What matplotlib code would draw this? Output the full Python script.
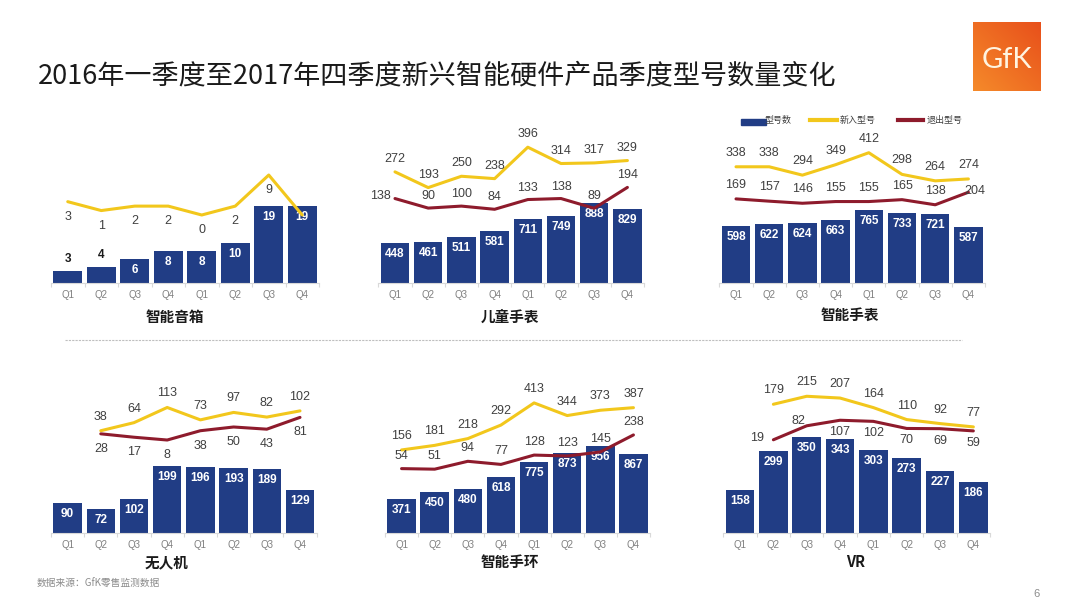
import numpy as np
import matplotlib
matplotlib.use("Agg")
import matplotlib.pyplot as plt
from matplotlib.patches import Rectangle
from matplotlib.lines import Line2D
from matplotlib.colors import LinearSegmentedColormap

plt.rcParams['font.family'] = ['Noto Sans CJK SC', 'DejaVu Sans']

# ---------------- data ----------------
quarters = ["Q1", "Q2", "Q3", "Q4", "Q1", "Q2", "Q3", "Q4"]
titles = ["智能音箱", "儿童手表", "智能手表", "无人机", "智能手环", "VR"]

models_speaker = [3, 4, 6, 8, 8, 10, 19, 19]
new_speaker = [3, 1, 2, 2, 0, 2, 9, 0]
exit_speaker = [np.nan] * 8

models_kidwatch = [448, 461, 511, 581, 711, 749, 888, 829]
new_kidwatch = [272, 193, 250, 238, 396, 314, 317, 329]
exit_kidwatch = [138, 90, 100, 84, 133, 138, 89, 194]

models_watch = [598, 622, 624, 663, 765, 733, 721, 587]
new_watch = [338, 338, 294, 349, 412, 298, 264, 274]
exit_watch = [169, 157, 146, 155, 155, 165, 138, 204]

models_drone = [90, 72, 102, 199, 196, 193, 189, 129]
new_drone = [np.nan, 38, 64, 113, 73, 97, 82, 102]
exit_drone = [np.nan, 28, 17, 8, 38, 50, 43, 81]

models_band = [371, 450, 480, 618, 775, 873, 956, 867]
new_band = [156, 181, 218, 292, 413, 344, 373, 387]
exit_band = [54, 51, 94, 77, 128, 123, 145, 238]

models_vr = [158, 299, 350, 343, 303, 273, 227, 186]
new_vr = [np.nan, 179, 215, 207, 164, 110, 92, 77]
exit_vr = [np.nan, 19, 82, 107, 102, 70, 69, 59]

models = [models_speaker, models_kidwatch, models_watch, models_drone, models_band, models_vr]
news = [new_speaker, new_kidwatch, new_watch, new_drone, new_band, new_vr]
exits = [exit_speaker, exit_kidwatch, exit_watch, exit_drone, exit_band, exit_vr]

legend_labels = ["型号数", "新入型号", "退出型号"]
main_title = "2016年一季度至2017年四季度新兴智能硬件产品季度型号数量变化"
source_text = "数据来源：GfK零售监测数据"
page_no = "6"

# ---------------- style / layout ----------------
NAVY = "#213D85"
YELLOW = "#F2C71C"
RED = "#8E1B2C"
GRAY_TXT = "#404040"
AX_GRAY = "#7F7F7F"
NUMFONT = ["Liberation Sans", "DejaVu Sans"]

W, H = 1080, 608
fig = plt.figure(figsize=(W / 100, H / 100), dpi=100)
fig.patch.set_facecolor("white")

def fx(px):
    return px / W

def fy(py):
    return 1 - py / H

# per panel: x-left, x-right, baseline, axes top, bar px/unit, line zero px, line px/unit
geo = [
    (51, 319, 283.3, 130, 4.07, 215, 4.44),
    (378.4, 644, 283.3, 130, 0.090, 226, 0.199),
    (719.4, 985, 283.3, 130, 0.096, 231, 0.19),
    (51, 316.6, 533, 385, 0.337, 442.5, 0.31),
    (385, 650, 533.3, 385, 0.0915, 478.5, 0.183),
    (723.4, 990, 532.7, 385, 0.273, 444, 0.222),
]
title_pos = [(175, 317), (510, 317), (850, 315), (167, 562), (510, 562), (856, 562)]

# label offsets in px (dx, dy; dy positive = up)
new_off = [(0, -15), (0, 13), (0, 14), (0, 14), (0, 14), (0, 14)]
exit_off = [(0, 13), (0, 12), (0, 14), (0, -15), (0, 13), (0, -12)]
special_exit_off = {(1, 0): (-15, 3), (5, 1): (-16, 2), (5, 2): (-8, 5), (2, 7): (6, 1)}
hidden_new = {(0, 7)}

x = np.arange(8)
PT = 72 / 100  # px -> points

for i in range(6):
    xl, xr, base, top, bscale, lzero, lscale = geo[i]
    ax = fig.add_axes([fx(xl), fy(base), fx(xr) - fx(xl), (base - top) / H])
    hpx = base - top
    ax.set_xlim(-0.5, 7.5)
    ax.set_ylim(0, hpx / bscale)
    vals = models[i]
    ax.bar(x, vals, width=0.86, color=NAVY, zorder=2)
    for j, v in enumerate(vals):
        if v * bscale < 18:
            ax.annotate(str(v), (j, v), xytext=(0, 6 * PT), textcoords="offset points",
                        ha="center", va="bottom", fontsize=8.5, fontweight="bold",
                        color="#1a1a1a", family=NUMFONT)
        else:
            ax.annotate(str(v), (j, v), xytext=(0, -11 * PT), textcoords="offset points",
                        ha="center", va="center", fontsize=8.5, fontweight="bold",
                        color="white", family=NUMFONT, zorder=5)
    for s in ["top", "left", "right"]:
        ax.spines[s].set_visible(False)
    ax.spines["bottom"].set_color("#D9D9D9")
    ax.spines["bottom"].set_linewidth(0.8)
    ax.set_yticks([])
    ax.set_xticks(x)
    ax.set_xticklabels(quarters, fontsize=7, color=AX_GRAY, family=NUMFONT)
    ax.tick_params(axis="x", length=0, pad=5)
    ax.set_xticks(np.arange(-0.5, 8, 1), minor=True)
    ax.tick_params(axis="x", which="minor", length=3, color="#D9D9D9", width=0.8)
    ax.patch.set_alpha(0)

    ax2 = ax.twinx()
    ax2.set_ylim(-(base - lzero) / lscale, (lzero - top) / lscale)
    ax2.set_axis_off()
    ax2.plot(x, exits[i], color=RED, lw=2.2, zorder=3, solid_capstyle="round")
    ax2.plot(x, news[i], color=YELLOW, lw=2.2, zorder=3, solid_capstyle="round")
    for j in range(8):
        v = news[i][j]
        if not np.isnan(v) and (i, j) not in hidden_new:
            dx, dy = new_off[i]
            ax2.annotate(str(int(v)), (j, v), xytext=(dx * PT, dy * PT), textcoords="offset points",
                         ha="center", va="center", fontsize=9, color=GRAY_TXT, family=NUMFONT)
        v = exits[i][j]
        if not np.isnan(v):
            dx, dy = special_exit_off.get((i, j), exit_off[i])
            ax2.annotate(str(int(v)), (j, v), xytext=(dx * PT, dy * PT), textcoords="offset points",
                         ha="center", va="center", fontsize=9, color=GRAY_TXT,
                         family=NUMFONT, zorder=6)

    tx, ty = title_pos[i]
    fig.text(fx(tx), fy(ty), titles[i], ha="center", va="center", fontsize=10.5,
             fontweight="bold", color="#1a1a1a")

# main title
fig.text(fx(38), fy(76), main_title, ha="left", va="center", fontsize=19.5,
         fontweight="medium", color="#1a1a1a")

# separator
fig.add_artist(Line2D([fx(65), fx(962)], [fy(340), fy(340)], color="#BFBFBF", lw=0.8,
                      linestyle=(0, (2, 1))))

# legend
fig.add_artist(Rectangle((fx(740.7), fy(125)), fx(766) - fx(740.7), 6 / H, color=NAVY,
                         transform=fig.transFigure))
fig.text(fx(765), fy(120), legend_labels[0], ha="left", va="center", fontsize=6.5, color=GRAY_TXT)
fig.add_artist(Line2D([fx(810), fx(837)], [fy(120), fy(120)], color=YELLOW, lw=3))
fig.text(fx(840), fy(120), legend_labels[1], ha="left", va="center", fontsize=6.5, color=GRAY_TXT)
fig.add_artist(Line2D([fx(898), fx(923)], [fy(120), fy(120)], color=RED, lw=3))
fig.text(fx(927), fy(120), legend_labels[2], ha="left", va="center", fontsize=6.5, color=GRAY_TXT)

# footer
fig.text(fx(37), fy(584), source_text, ha="left", va="center", fontsize=7, color="#8C8C8C")
fig.text(fx(1037), fy(594), page_no, ha="center", va="center", fontsize=8, color="#8C8C8C",
         family=NUMFONT)

# GfK logo
lax = fig.add_axes([fx(973), fy(91), fx(1041) - fx(973), 69 / H])
gy, gx = np.mgrid[0:1:100j, 0:1:100j]
grad = 0.5 * gx + 0.5 * (1 - gy)
cmap = LinearSegmentedColormap.from_list("gfk", ["#F58A2A", "#E8501B"])
lax.imshow(grad, cmap=cmap, extent=(0, 1, 0, 1), aspect="auto", origin="upper")
lax.text(0.5, 0.45, "GfK", ha="center", va="center", fontsize=21, color="#FFF4E0",
         family=["Lato", "DejaVu Sans"], transform=lax.transAxes)
lax.set_axis_off()

fig.savefig("out.png", dpi=100, facecolor="white")
